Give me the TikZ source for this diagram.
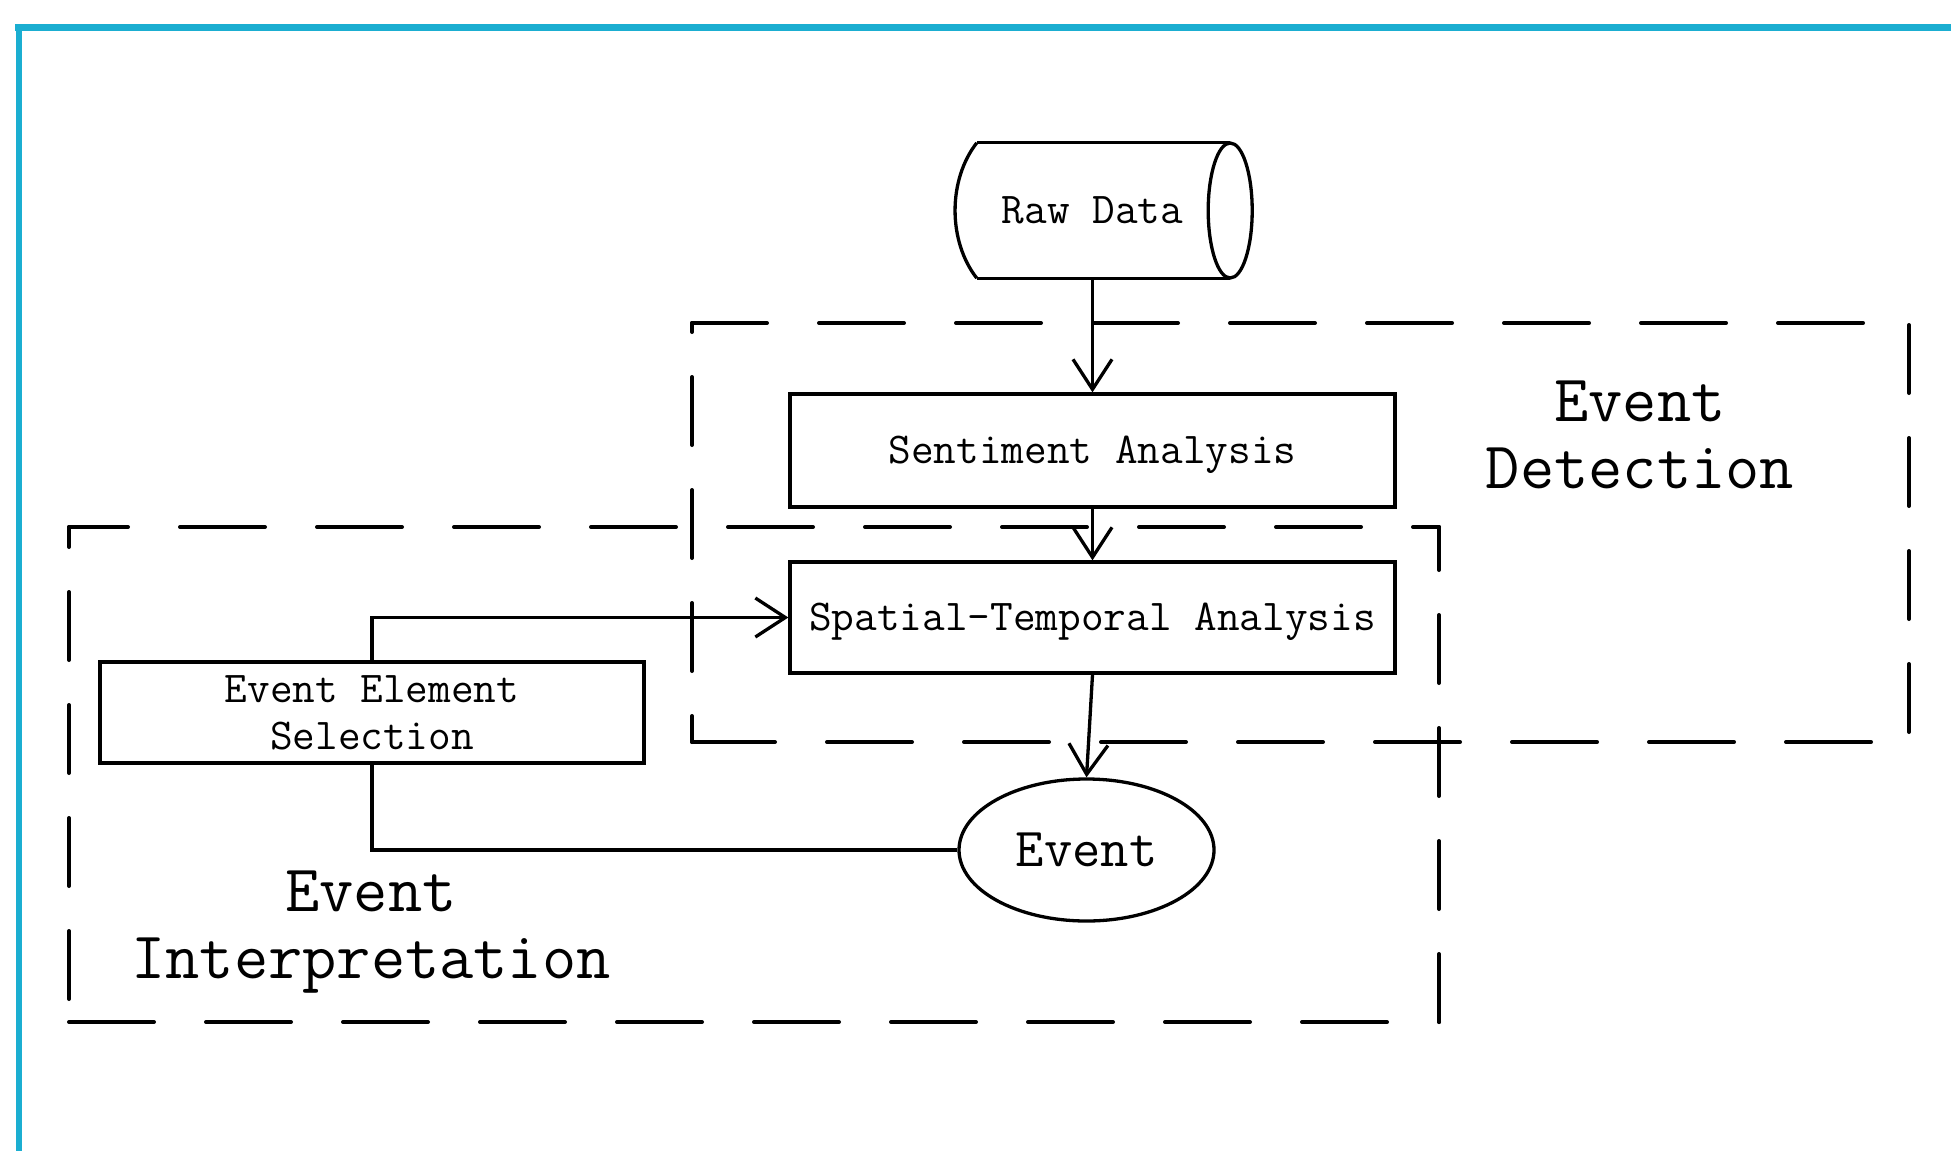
\documentclass[tikz,border=0pt]{standalone}
\usepackage{fontspec}
\usetikzlibrary{arrows.meta,shapes.geometric}
\definecolor{framecyan}{RGB}{27,174,209}
\begin{document}
\begin{tikzpicture}[x=1pt,y=-1pt,
  line/.style={line width=3.3pt},
  arr/.style={line, -{Straight Barb[length=30pt,width=39pt]}},
  boxfont/.style={font=\ttfamily\fontsize{44}{47}\selectfont},
  box/.style={draw, rectangle, line width=3.3pt, inner sep=0pt, boxfont},
  oneline/.style={text height=26.9pt, text depth=0pt},
  regionlabel/.style={align=center, inner sep=0pt, font=\ttfamily\fontsize{66.5}{67}\selectfont},
  hdash/.style={line width=4pt, line cap=round, dash pattern=on 85pt off 52pt},
  vdash/.style={line width=4pt, line cap=round, dash pattern=on 68pt off 45pt}
]
\useasboundingbox (0,0) rectangle (1951,1151);

% outer frame
\draw[framecyan, line width=7pt] (15,27.5) -- (1951,27.5);
\draw[framecyan, line width=5.5pt] (19,25) -- (19,1151);

% Raw Data store (horizontal cylinder drawn around its node)
\node[boxfont, minimum width=231pt, minimum height=135pt, inner sep=0pt, oneline] (raw) at (1092.5,210.5) {Raw Data};
\draw[line] (raw.north west) -- ([xshift=22pt]raw.north east);
\draw[line] (raw.south west) -- ([xshift=22pt]raw.south east);
\draw[line] ([xshift=22pt]raw.east) ellipse [x radius=22, y radius=67.5];
\draw[line] (raw.north west) .. controls ([xshift=-29pt,yshift=-37pt]raw.north west) and ([xshift=-29pt,yshift=37pt]raw.south west) .. (raw.south west);

% process boxes
\node[box, oneline, minimum width=605pt, minimum height=113pt] (sent) at (1092.5,450.5) {Sentiment Analysis};
\node[box, oneline, minimum width=605pt, minimum height=111pt] (spatial) at (1092.5,617.5) {Spatial-Temporal Analysis};
\node[box, align=center, minimum width=544pt, minimum height=101pt] (ees) at (372,712.5) {Event Element\\Selection};
\node[draw, ellipse, line width=3.3pt, inner sep=0pt, minimum width=255pt, minimum height=142pt,
      font=\ttfamily\fontsize{55}{58}\selectfont, text height=33.6pt, text depth=0pt] (event) at (1086.5,850) {Event};

% connectors
\draw[arr] (raw) -- (sent);
\draw[arr] (sent) -- (spatial);
\draw[arr] (spatial.south) -- (event.north);
\draw[arr] (ees.north) |- (spatial.west);
\draw[line] (ees.south) |- (event.west);

% Event Detection group
\coordinate (dtl) at (692,323);
\coordinate (dtr) at (1909,323);
\coordinate (dbl) at (692,742);
\coordinate (dbr) at (1909,742);
\draw[hdash, dash phase=10pt] (dtl) -- (dtr);
\draw[vdash, dash phase=111pt] (dtr) -- (dbr);
\draw[hdash, dash phase=2pt] (dbl) -- (dbr);
\draw[vdash, dash phase=59pt] (dtl) -- (dbl);
\node[regionlabel] (detlab) at (1640,435.2) {Event\\Detection};

% Event Interpretation group
\coordinate (itl) at (69,527);
\coordinate (itr) at (1439,527);
\coordinate (ibl) at (69,1022);
\coordinate (ibr) at (1439,1022);
\draw[hdash, dash phase=26pt] (itl) -- (itr);
\draw[vdash, dash phase=25pt] (itr) -- (ibr);
\draw[hdash, dash phase=0pt] (ibl) -- (ibr);
\draw[vdash, dash phase=48pt] (itl) -- (ibl);
\node[regionlabel] (intlab) at (371,931.6) {Event\\Interpretation};
\end{tikzpicture}
\end{document}
